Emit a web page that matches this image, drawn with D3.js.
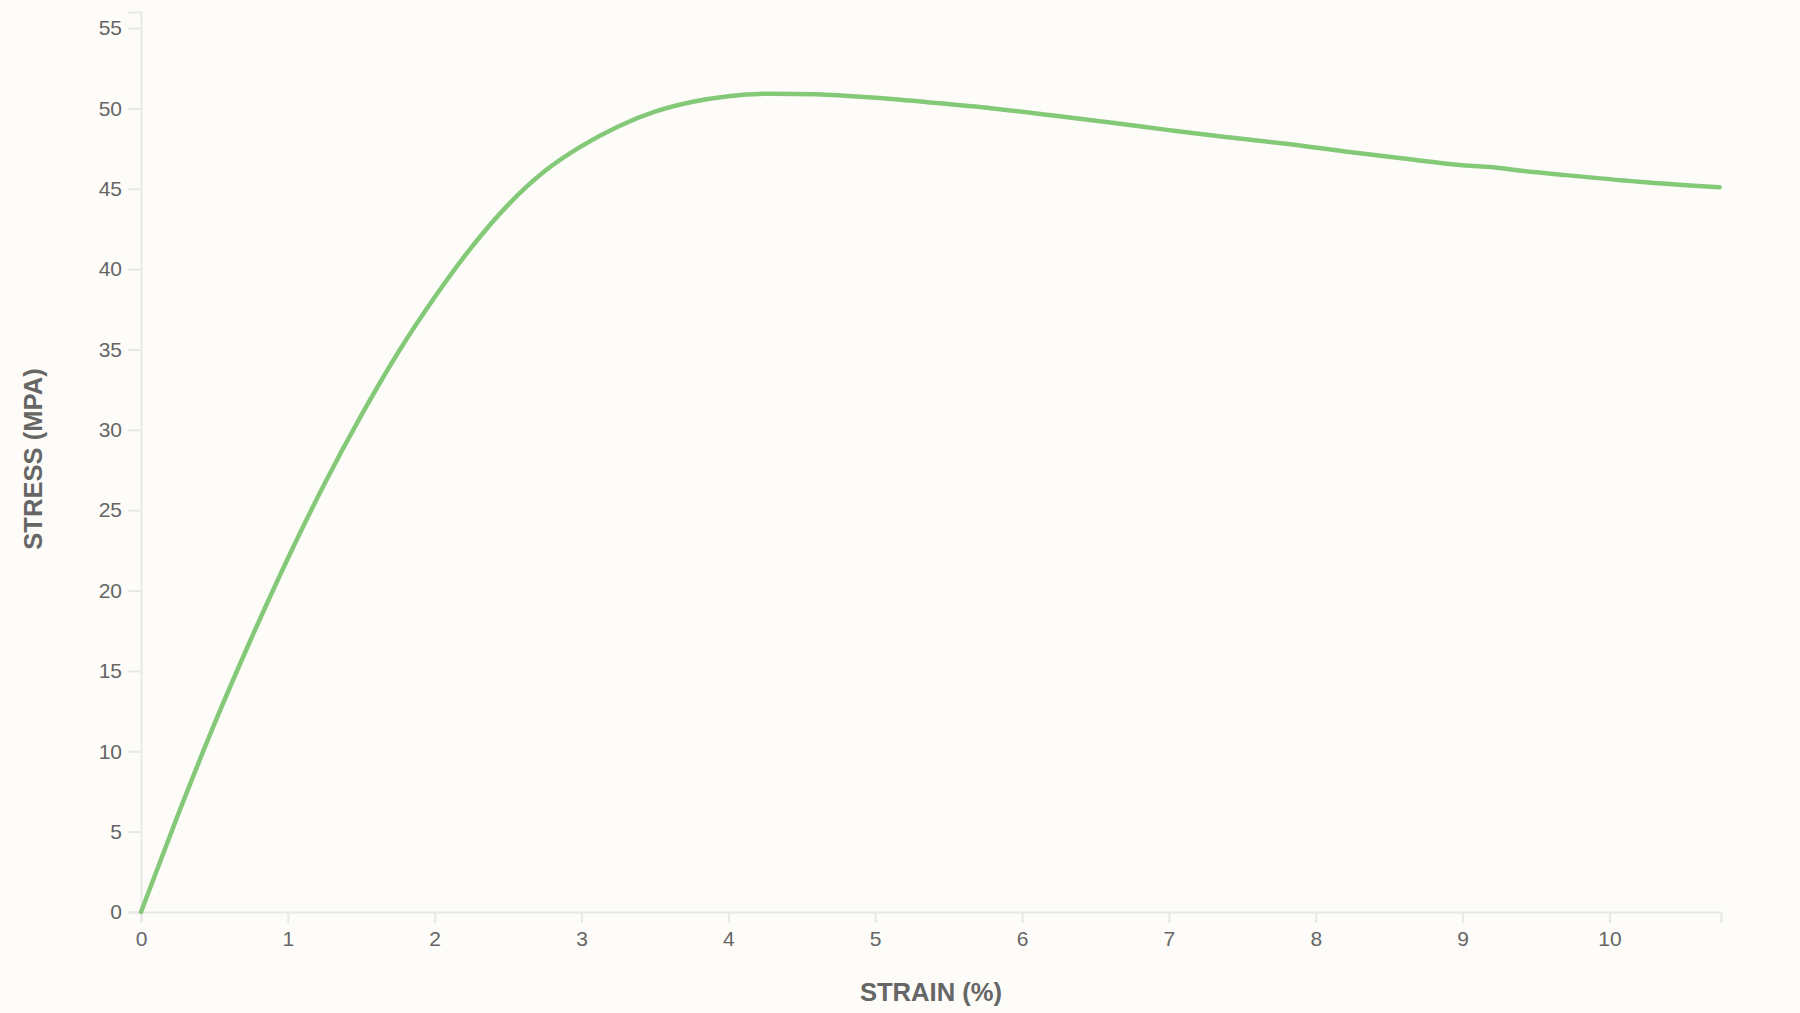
<!DOCTYPE html>
<html>
<head>
<meta charset="utf-8">
<script src="https://cdn.jsdelivr.net/npm/d3@7"></script>
<style>
  html, body { margin: 0; padding: 0; background: #fdfcf8; }
  svg { display: block; }
  .axis text { fill: #666; font-family: "Liberation Sans", Arial, sans-serif; font-size: 21px; }
  .axis path, .axis line { stroke: #e8e8e6; stroke-width: 2; }
  .title { fill: #666; font-family: "Liberation Sans", Arial, sans-serif; font-size: 25.6px; font-weight: bold; }
</style>
</head>
<body>
<div class="chart"></div>
<script>
// strain (%) vs stress (MPa)
const strain = [0, 0.25, 0.5, 0.75, 1.0, 1.25, 1.5, 1.75, 2.0, 2.25,
  2.5, 2.75, 3.0, 3.25, 3.5, 3.75, 4.0, 4.3, 4.6, 5.0,
  5.4, 5.8, 6.2, 6.6, 7.0, 7.4, 7.8, 8.2, 8.6, 9.0,
  9.25, 9.4, 9.7, 10.2, 10.75]
const stress = [0, 6.0, 11.7, 17.0, 22.0, 26.65, 30.9, 34.8, 38.25, 41.35,
  44.0, 46.1, 47.65, 48.88, 49.8, 50.4, 50.76, 50.92, 50.88, 50.66,
  50.35, 50.0, 49.57, 49.12, 48.65, 48.2, 47.8, 47.32, 46.88, 46.47,
  46.3, 46.12, 45.85, 45.44, 45.09]
const xTicks = [0, 1, 2, 3, 4, 5, 6, 7, 8, 9, 10]
const yTicks = [0, 5, 10, 15, 20, 25, 30, 35, 40, 45, 50, 55]

let width = 1800
let height = 1013
let margin = {top: 12, right: 79, bottom: 101, left: 141}

let svg = d3.select('.chart')
  .append('svg')
  .attr('width', width)
  .attr('height', height)

let x = d3.scaleLinear()
  .domain([0, 10.76])
  .range([margin.left, width - margin.right])

let y = d3.scaleLinear()
  .domain([0, 56])
  .range([height - margin.bottom, margin.top])

svg.append('g')
  .attr('class', 'axis')
  .attr('transform', `translate(0,${height - margin.bottom})`)
  .call(d3.axisBottom(x).tickValues(xTicks).tickSize(11).tickPadding(8))

svg.append('g')
  .attr('class', 'axis')
  .attr('transform', `translate(${margin.left},0)`)
  .call(d3.axisLeft(y).tickValues(yTicks).tickSize(13).tickPadding(6))

let pts = strain.map((s, i) => [s, stress[i]])

let line = d3.line()
  .x(d => x(d[0]))
  .y(d => y(d[1]))
  .curve(d3.curveMonotoneX)

svg.append('path')
  .datum(pts)
  .attr('fill', 'none')
  .attr('stroke', '#84c978')
  .attr('stroke-width', 4.5)
  .attr('stroke-linecap', 'round')
  .attr('d', line)

svg.append('text')
  .attr('class', 'title')
  .attr('x', (x.range()[0] + x.range()[1]) / 2)
  .attr('y', 1001)
  .attr('text-anchor', 'middle')
  .text('STRAIN (%)')

svg.append('text')
  .attr('class', 'title')
  .attr('transform', `translate(42,${(y.range()[0] + y.range()[1]) / 2 - 3}) rotate(-90)`)
  .attr('text-anchor', 'middle')
  .text('STRESS (MPA)')
</script>
</body>
</html>
